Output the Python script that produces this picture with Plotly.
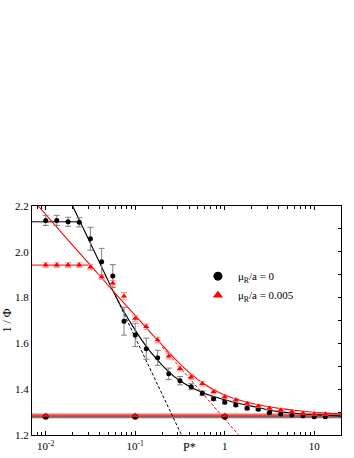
import plotly.graph_objects as go

# reduced pressure P* (x) and 1/Phi values
p_star = [0.01, 0.0133, 0.0178, 0.0237, 0.0316, 0.0422, 0.0562, 0.075, 0.1, 0.133,
          0.178, 0.237, 0.316, 0.422, 0.562, 0.75, 1.0, 1.33, 1.78, 2.37,
          3.16, 4.22, 5.62, 7.5, 10.0, 13.3]

inv_phi_mu0 = [2.137, 2.137, 2.131, 2.129, 2.057, 1.957, 1.894, 1.697, 1.637, 1.577,
               1.537, 1.467, 1.437, 1.411, 1.382, 1.358, 1.343, 1.331, 1.317, 1.312,
               1.297, 1.292, 1.287, 1.284, 1.280, 1.280]
err_mu0 = [0.022, 0.022, 0.02, 0.02, 0.05, 0.058, 0.05, 0.061, 0.051, 0.046,
           0.033, 0.025, 0.018, 0.013, 0.01, 0.008, 0.007, 0.006, 0.005, 0.005,
           0.004, 0.004, 0.004, 0.003, 0.003, 0.003]

inv_phi_mu005 = [1.942, 1.942, 1.942, 1.942, 1.933, 1.890, 1.863, 1.806, 1.709, 1.673,
                 1.615, 1.544, 1.490, 1.453, 1.424, 1.389, 1.367, 1.353, 1.338, 1.327,
                 1.317, 1.309, 1.302, 1.295, 1.292, 1.292]
err_mu005 = [0.01, 0.01, 0.01, 0.01, 0.012, 0.01, 0.012, 0.016, 0.012, 0.012,
             0.012, 0.012, 0.01, 0.01, 0.01, 0.009, 0.008, 0.007, 0.007, 0.006,
             0.005, 0.005, 0.005, 0.005, 0.005, 0.005]

# limiting (jammed) values
p_limit = [0.01, 0.1, 1.0]
limit_mu0 = [1.280, 1.280, 1.280]
limit_mu005 = [1.285, 1.285, 1.285]

# fitted curves
fit_p_mu0 = [0.020, 0.0316, 0.0422, 0.0562, 0.075, 0.1, 0.134, 0.178, 0.237, 0.316,
             0.42, 0.562, 0.75, 1.0, 1.33, 1.78, 2.37, 3.16, 4.22, 5.62, 7.5, 10.0, 20.0]
fit_mu0 = [2.200, 2.037, 1.934, 1.831, 1.738, 1.658, 1.585, 1.527, 1.476, 1.437,
           1.409, 1.386, 1.368, 1.354, 1.341, 1.330, 1.320, 1.308, 1.301, 1.296, 1.292, 1.289, 1.283]
fit_p_mu005 = [0.00826, 0.0178, 0.0316, 0.0562, 0.075, 0.1, 0.133, 0.178, 0.237, 0.316,
               0.422, 0.562, 0.75, 1.0, 1.33, 1.78, 2.37, 3.16, 4.22, 5.62, 7.5, 10.0, 20.0]
fit_mu005 = [2.200, 2.051, 1.942, 1.830, 1.776, 1.722, 1.668, 1.614, 1.561, 1.511,
             1.466, 1.428, 1.398, 1.375, 1.357, 1.343, 1.332, 1.323, 1.315, 1.309, 1.304, 1.299, 1.292]

# low-pressure plateaus and straight-line asymptotes
plateau_p_mu0 = [0.007, 0.0243]
plateau_mu0 = [2.131, 2.131]
plateau_p_mu005 = [0.007, 0.0316]
plateau_mu005 = [1.942, 1.942]
tangent_p_mu0 = [0.0603, 0.329]
tangent_mu0 = [1.807, 1.2]
tangent_p_mu005 = [0.2, 1.43]
tangent_mu005 = [1.585, 1.2]

full_p = [0.007, 20.0]
jam_mu0 = [1.279, 1.279]
jam_mu005 = [1.287, 1.287]

RED = "#ff0000"
fig = go.Figure()

# jamming bands at the bottom
fig.add_trace(go.Scatter(x=full_p, y=jam_mu0, mode="lines", line=dict(color="#7a7a7a", width=2.5),
                         showlegend=False, hoverinfo="skip"))
fig.add_trace(go.Scatter(x=full_p, y=jam_mu005, mode="lines", line=dict(color="rgba(255,0,0,0.3)", width=4),
                         showlegend=False, hoverinfo="skip"))
fig.add_trace(go.Scatter(x=full_p, y=jam_mu005, mode="lines", line=dict(color=RED, width=1),
                         showlegend=False, hoverinfo="skip"))

# plateaus / tangents
for xs, ys, col, dash in [(plateau_p_mu0, plateau_mu0, "black", "solid"),
                          (plateau_p_mu005, plateau_mu005, RED, "solid"),
                          (tangent_p_mu0, tangent_mu0, "black", "3px,2px"),
                          (tangent_p_mu005, tangent_mu005, RED, "3px,2px")]:
  fig.add_trace(go.Scatter(x=xs, y=ys, mode="lines", line=dict(color=col, width=1, dash=dash),
                           showlegend=False, hoverinfo="skip"))

# fits
fig.add_trace(go.Scatter(x=fit_p_mu0, y=fit_mu0, mode="lines",
                         line=dict(color="black", width=1.1, shape="spline", smoothing=0.5),
                         showlegend=False))
fig.add_trace(go.Scatter(x=fit_p_mu005, y=fit_mu005, mode="lines",
                         line=dict(color=RED, width=1.1, shape="spline", smoothing=0.5),
                         showlegend=False))

# data
fig.add_trace(go.Scatter(x=p_star, y=inv_phi_mu0, mode="markers",
                         marker=dict(symbol="circle", size=5, color="black"),
                         error_y=dict(type="data", array=err_mu0, color="#808080", thickness=1, width=3),
                         showlegend=False))
fig.add_trace(go.Scatter(x=p_star, y=inv_phi_mu005, mode="markers",
                         marker=dict(symbol="triangle-up", size=5.5, color=RED),
                         error_y=dict(type="data", array=err_mu005, color="#ff8a8a", thickness=1, width=3),
                         showlegend=False))
fig.add_trace(go.Scatter(x=p_limit, y=limit_mu0, mode="markers",
                         marker=dict(symbol="circle", size=6, color="black"), showlegend=False))
fig.add_trace(go.Scatter(x=p_limit, y=limit_mu005, mode="markers",
                         marker=dict(symbol="triangle-up", size=6, color=RED), showlegend=False))

# legend-only entries
fig.add_trace(go.Scatter(x=[None], y=[None], mode="markers", name="\u03bc<sub>R</sub>/a = 0",
                         marker=dict(symbol="circle", size=9, color="black")))
fig.add_trace(go.Scatter(x=[None], y=[None], mode="markers", name="\u03bc<sub>R</sub>/a = 0.005",
                         marker=dict(symbol="triangle-up", size=9, color=RED)))

minor_x = [m * 10 ** e for e in (-3, -2, -1, 0, 1) for m in range(2, 10)]
minor_x = [v for v in minor_x if 0.007 <= v <= 20]

fig.update_layout(
  width=354, height=458,
  margin=dict(l=32, r=13, t=206, b=23),
  paper_bgcolor="white", plot_bgcolor="white",
  font=dict(family="Liberation Serif, Times New Roman, serif", size=11, color="black"),
  showlegend=True,
  legend=dict(x=0.537, y=0.757, xanchor="left", yanchor="top", bgcolor="rgba(0,0,0,0)",
              font=dict(size=11), tracegroupgap=0),
  xaxis=dict(type="log", range=[-2.153, 1.299], showline=True, linecolor="black", linewidth=1.3,
             mirror="ticks", ticks="inside", ticklen=4, tickcolor="black",
             tickvals=[0.01, 0.1, 1, 10], ticktext=["10<sup>-2</sup>", "10<sup>-1</sup>", "1", "10"],
             ticklabelstandoff=1,
             minor=dict(tickvals=minor_x, ticks="inside", ticklen=2.5, tickcolor="black", showgrid=False),
             showgrid=False, zeroline=False, automargin=False),
  yaxis=dict(range=[1.2, 2.2], showline=True, linecolor="black", linewidth=1.3, ticks="",
             tickvals=[1.2, 1.4, 1.6, 1.8, 2.0, 2.2], ticktext=["1.2", "1.4", "1.6", "1.8", "2.0", "2.2"],
             showgrid=False, zeroline=False, automargin=False,
             title=dict(text="1 / \u03a6", font=dict(size=12), standoff=2)),
  yaxis2=dict(range=[1.2, 2.2], overlaying="y", side="right", showline=True, linecolor="black", linewidth=1.3,
              ticks="inside", ticklen=3, tickcolor="black", dtick=0.1, tick0=1.2,
              showticklabels=False, showgrid=False, zeroline=False),
  annotations=[dict(text="P*", xref="paper", yref="paper", x=0.511, y=-0.052,
                    xanchor="center", yanchor="middle", showarrow=False, font=dict(size=12))],
)
# dummy trace so yaxis2 is drawn
fig.add_trace(go.Scatter(x=[None], y=[None], yaxis="y2", showlegend=False, hoverinfo="skip"))

# drop the default 8px page margin so the figure sits at the window's corner
fig.write_html("out.html", config={"displayModeBar": False},
               post_script="document.body.style.margin='0';")
